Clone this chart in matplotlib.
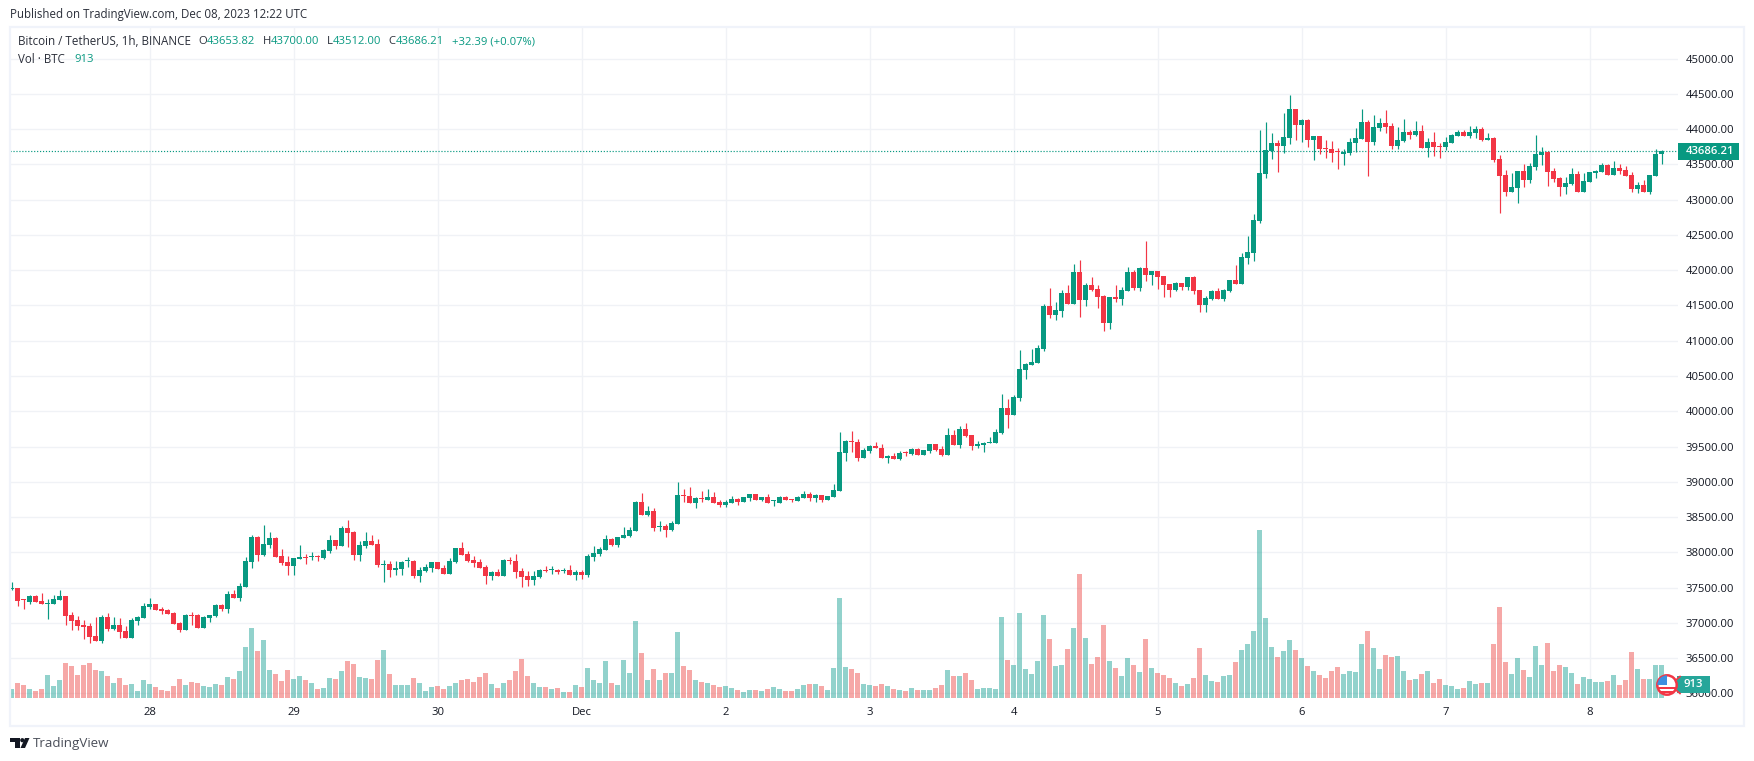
import matplotlib
matplotlib.use("Agg")
import matplotlib.pyplot as plt
from matplotlib.patches import Rectangle, Circle, Polygon
import numpy as np

opens = [37479,37493,37328,37300,37380,37309,37271,37267,37328,37380,
37111,37040,36969,36955,36813,36742,37082,36912,36969,36884,
36789,37025,37068,37224,37267,37196,37181,37139,36997,36898,
37111,37111,36926,37068,37096,37252,37196,37408,37352,37508,
37862,38217,37961,38103,38202,37947,37862,37805,37905,37933,
37938,37947,37919,38018,38174,38089,38344,38288,37961,38089,
38160,38117,37824,37834,37749,37763,37872,37876,37664,37735,
37777,37862,
37781,37696,37866,38065,37980,37895,37866,37795,37668,37724,
37668,37895,37880,37739,37668,37611,37654,37753,37743,37753,
37739,37753,37682,37724,37682,37937,37980,38036,38192,38107,
38207,38235,38306,38717,38533,38589,38363,38377,38320,38405,
38816,38802,38703,38774,38745,38788,38717,38675,38703,38760,
38717,38774,38831,38745,38788,38722,38703,38788,38755,38731,
38774,38831,38774,38816,38745,38788,38873,39412,39582,39568,
39341,39440,39511,
39484,39342,39370,39328,39418,39399,39469,39384,39441,39540,
39469,39384,39668,39526,39753,39668,39512,39526,39555,39555,
39696,40051,39952,40193,40590,40661,40689,40888,41497,41370,
41427,41682,41526,41980,41582,41795,41738,41639,41256,41625,
41597,41710,41980,41753,42036,41937,41994,41923,41809,41724,
41824,41767,41909,41724,41512,41597,41710,41597,41710,41866,
41809,42179,42250,42703,43370,43696,43810,43767,43880,44292,
44065,44136,43852,43909,43739,43725,43682,43654,43668,43810,
43866,44107,43824,44022,44093,44051,43767,43838,43966,43923,
43980,43739,43824,43767,43753,43810,43909,43966,43909,43951,
44008,43852,43880,43583,43356,43115,43171,43413,43285,43469,
43639,43682,43413,43313,43186,43228,43370,43115,43257,43384,
43398,43498,43356,43455,43427,43356,43157,43214,43115,43342,43653.82]

highs = [37578,37493,37342,37394,37394,37423,37337,37389,37465,37380,
37153,37096,37040,36992,37082,37111,37134,37082,37068,36955,
37068,37096,37281,37352,37267,37219,37196,37153,37011,37125,
37153,37125,37096,37111,37267,37267,37451,37465,37564,37928,
38245,38231,38387,38288,38217,38046,37947,37919,38103,37976,
38004,37961,38046,38245,38174,38373,38458,38302,38160,38288,
38245,38188,37890,37876,37876,37876,37933,37890,37791,37834,
37862,37862,
37824,37923,38065,38150,38022,37951,37909,37824,37739,37767,
37909,37937,37980,37781,37739,37739,37767,37810,37810,37767,
37772,37824,37753,37753,37980,38093,38079,38249,38207,38221,
38363,38363,38731,38845,38660,38632,38448,38405,38448,39001,
38901,38930,38788,38873,38901,38859,38745,38745,38802,38774,
38788,38831,38831,38788,38831,38745,38802,38802,38760,38802,
38873,38859,38831,38816,38802,38972,39710,39596,39724,39611,
39483,39525,39568,
39540,39384,39413,39441,39441,39484,39484,39455,39540,39540,
39512,39767,39739,39796,39838,39668,39583,39569,39640,39753,
40249,40179,40235,40873,40689,40888,40944,41526,41753,41554,
41724,41795,42093,42150,41824,41909,41795,41653,41625,41795,
41767,42050,42008,42050,42419,41994,41994,41923,41809,41838,
41824,41909,41923,41724,41639,41724,41753,41738,41866,42079,
42250,42491,42803,43994,44107,43951,43852,44235,44490,44292,
44150,44150,43909,43909,43852,43838,43739,43725,43880,44022,
44292,44136,44207,44164,44278,44093,44036,44150,43994,44122,
44065,43880,43966,43810,43895,43937,43994,43994,44051,44051,
44036,43951,43895,43639,43427,43384,43413,43512,43526,43923,
43753,43696,43455,43327,43327,43455,43413,43384,43398,43427,
43526,43512,43554,43512,43483,43398,43257,43285,43356,43725,43700]

lows = [37465,37238,37196,37271,37295,37267,37054,37262,37323,36969,
36898,36898,36770,36718,36742,36718,36884,36898,36784,36784,
36784,36969,37068,37196,37181,37125,37120,36983,36869,36898,
36969,36926,36926,37011,37082,37167,37139,37352,37309,37508,
37777,37876,37947,38061,37928,37820,37678,37678,37905,37834,
37890,37876,37905,37990,38046,38089,38075,37890,37876,38061,
38098,37791,37578,37649,37678,37678,37791,37635,37578,37720,
37720,37763,
37696,37696,37852,37966,37866,37795,37781,37554,37611,37668,
37668,37838,37639,37512,37526,37540,37639,37724,37696,37696,
37710,37682,37611,37625,37654,37880,37951,38036,38093,38079,
38207,38221,38306,38533,38519,38306,38306,38221,38306,38405,
38717,38703,38632,38717,38745,38703,38646,38646,38703,38675,
38717,38731,38745,38731,38703,38660,38703,38745,38717,38731,
38774,38731,38717,38717,38745,38788,38873,39299,39426,39299,
39341,39412,39483,
39342,39271,39328,39314,39370,39384,39384,39384,39413,39441,
39370,39384,39526,39484,39640,39455,39484,39427,39555,39555,
39682,39767,39952,40150,40462,40661,40689,40859,41327,41299,
41341,41526,41526,41341,41497,41710,41469,41143,41171,41554,
41512,41710,41724,41710,41852,41795,41738,41625,41625,41710,
41724,41724,41668,41412,41412,41582,41597,41568,41696,41809,
41809,42094,42136,42675,43313,43583,43398,43668,43795,43852,
43824,43753,43568,43654,43597,43540,43441,43498,43639,43682,
43866,43342,43781,43980,43951,43725,43725,43824,43866,43909,
43739,43611,43625,43597,43710,43810,43909,43909,43880,43880,
43838,43852,43540,42817,43058,43115,42959,43186,43242,43427,
43498,43200,43257,43058,43086,43214,43115,43115,43257,43313,
43398,43356,43356,43370,43342,43115,43100,43115,43086,43342,43512]

closes = [37489,37314,37318,37380,37300,37271,37281,37337,37380,37101,
37030,36959,36945,36803,36742,37082,36912,36969,36869,36789,
37040,37082,37238,37267,37186,37172,37125,36983,36898,37111,
37101,36926,37082,37111,37252,37196,37408,37352,37522,37876,
38217,37961,38117,38202,37933,37848,37805,37919,37933,37924,
37947,37933,38032,38174,38089,38344,38273,37961,38103,38160,
38103,37820,37834,37749,37777,37862,37881,37664,37749,37791,
37862,37763,
37696,37880,38065,37966,37880,37852,37781,37668,37724,37668,
37895,37880,37724,37654,37611,37668,37753,37739,37753,37724,
37748,37682,37724,37682,37951,37994,38051,38192,38107,38221,
38249,38320,38717,38533,38589,38348,38372,38320,38419,38816,
38802,38703,38774,38760,38788,38703,38675,38717,38760,38717,
38788,38831,38745,38788,38703,38731,38788,38745,38745,38788,
38831,38774,38816,38745,38802,38887,39426,39582,39568,39341,
39455,39511,39483,
39342,39370,39328,39413,39408,39469,39384,39455,39540,39455,
39384,39668,39526,39753,39654,39512,39540,39555,39569,39711,
40051,39952,40207,40604,40675,40703,40902,41497,41370,41441,
41682,41526,41980,41582,41795,41724,41625,41256,41625,41597,
41724,41980,41753,42036,41937,41994,41909,41795,41724,41824,
41767,41909,41710,41512,41611,41710,41597,41724,41866,41809,
42193,42264,42718,43384,43710,43810,43767,43895,44292,44065,
44136,43852,43909,43725,43725,43668,43672,43682,43824,43880,
44107,43824,44036,44093,44036,43767,43852,43966,43923,43980,
43739,43824,43753,43753,43824,43923,43966,43909,43966,44008,
43852,43880,43568,43342,43115,43186,43413,43285,43483,43654,
43682,43398,43299,43186,43242,43370,43115,43271,43398,43413,
43498,43356,43455,43413,43342,43157,43214,43115,43356,43654,43686.21]

volumes = [249,415,360,249,194,249,636,332,498,968,
885,636,913,968,775,747,609,415,553,360,
387,194,498,387,304,221,194,332,526,360,
443,415,332,304,387,360,581,526,747,1411,
1936,1300,1604,775,664,470,775,526,609,498,
415,249,277,553,526,747,1023,940,581,553,
526,1051,1328,664,360,360,360,553,415,194,
304,332,
249,332,415,498,526,443,581,692,387,277,
415,498,747,1079,609,415,304,304,249,277,
166,166,360,304,830,498,415,1023,415,360,
1051,692,2130,1245,498,802,498,692,692,1826,
885,775,498,443,415,360,304,332,277,221,
166,221,221,194,249,304,249,194,194,249,
360,387,387,332,221,830,2766,857,802,692,
387,360,332,
387,332,249,221,194,277,221,221,221,277,
360,775,609,609,692,498,249,277,277,249,
2240,1051,913,2351,802,664,1023,2296,1632,885,
913,1355,1936,3430,1660,940,1134,2019,1023,830,
609,1106,913,719,1632,830,692,636,553,415,
332,387,553,1383,636,470,443,609,636,996,
1328,1494,1853,4647,2213,1411,1134,1300,1604,1328,
1106,885,747,636,553,747,857,664,747,719,
1494,1853,1383,802,1189,1134,1162,747,498,526,
664,747,415,526,360,332,249,277,470,387,
415,415,1494,2517,996,664,1106,775,581,1438,
913,1521,747,913,857,692,387,581,526,443,
443,470,636,360,498,1272,802,526,526,913,913]

price_ticks = list(range(36000, 45001, 500))
day_labels = ["28", "29", "30", "Dec", "2", "3", "4", "5", "6", "7", "8"]
day_bar_index = [23, 47, 71, 95, 119, 143, 167, 191, 215, 239, 263]

UP, DOWN = "#089981", "#F23645"
VOL_UP, VOL_DOWN = "#26A69A", "#EF5350"
GRID = "#F0F2F6"
FRAME = "#F0F3FA"
TEXT = "#131722"
SOFT = "#2A2E39"
plt.rcParams["font.family"] = ["Open Sans", "DejaVu Sans"]

W, H = 1754, 761
fig = plt.figure(figsize=(W / 100, H / 100), dpi=100, facecolor="white")
L, R, T, B = 10, 1678, 27, 698
rect = [L / W, 1 - B / H, (R - L) / W, (B - T) / H]

o, h, l, c = map(np.array, (opens, highs, lows, closes))
x = np.arange(len(o))
up = c >= o
cols = np.where(up, UP, DOWN)
vcols = np.where(up, VOL_UP, VOL_DOWN)

ax = fig.add_axes(rect, zorder=1)
ax.set_xlim(-0.283, 277.7)
ax.set_ylim(35933, 45450)
ax.set_yticks(price_ticks)
ax.set_yticklabels([f"{p:.2f}" for p in price_ticks], color=TEXT, fontsize=8.1)
ax.yaxis.tick_right()
ax.set_xticks(day_bar_index)
ax.set_xticklabels(day_labels, color=TEXT, fontsize=8.1)
ax.tick_params(axis="both", length=0)
ax.tick_params(axis="y", pad=5.5)
ax.tick_params(axis="x", pad=6.5)
for s in ax.spines.values():
    s.set_visible(False)
ax.grid(True, color=GRID, lw=1.0)
ax.set_axisbelow(True)

ax.vlines(x, l, h, colors=cols, lw=0.85, zorder=3)
ax.bar(x, np.maximum(np.abs(c - o), 14), bottom=np.minimum(o, c), width=0.85,
       color=cols, linewidth=0, zorder=4)
ax.axhline(closes[-1], color=UP, lw=0.85, ls=(0, (1, 1.5)), zorder=2)

vax = fig.add_axes(rect, zorder=2)
vax.patch.set_visible(False)
vax.set_xlim(ax.get_xlim())
vax.set_ylim(0, 18567)
vax.axis("off")
vax.bar(x, volumes, width=0.85, color=vcols, alpha=0.5, linewidth=0)

# page furniture, placed in pixel space
ch = fig.add_axes([0, 0, 1, 1], zorder=3)
ch.set_xlim(0, W)
ch.set_ylim(H, 0)
ch.axis("off")
ch.add_patch(Rectangle((10, 26.5), 1734, 699.5, fill=False, ec=FRAME, lw=1.6))

ch.text(10.3, 14.7, "Published on TradingView.com, Dec 08, 2023 12:22 UTC", fontsize=8.3,
        color=SOFT, va="center")
parts = [(18.4, "Bitcoin / TetherUS, 1h, BINANCE", SOFT, 8.35),
         (198.5, "O", SOFT, 8.1), (206.7, f"{opens[-1]:.2f}", UP, 8.1),
         (262.5, "H", SOFT, 8.1), (270.6, f"{highs[-1]:.2f}", UP, 8.1),
         (327, "L", SOFT, 8.1), (333, f"{lows[-1]:.2f}", UP, 8.1),
         (388.5, "C", SOFT, 8.1), (395.7, f"{closes[-1]:.2f}", UP, 8.1),
         (451.6, "+32.39 (+0.07%)", UP, 8.1)]
for px, s, col, fs in parts:
    ch.text(px, 41.7, s, fontsize=fs, color=col, va="center")
ch.text(18.4, 59.3, "Vol · BTC", fontsize=8.3, color=SOFT, va="center")
ch.text(73.9, 59.3, f"{volumes[-1]}", fontsize=8.1, color=UP, va="center")

# last price tag
ch.add_patch(Rectangle((1678, 143), 61, 17, fc=UP, ec="none"))
ch.text(1686, 151.5, f"{closes[-1]:.2f}", color="white", fontsize=8.1, va="center", weight="semibold")

# volume tag and flag
ch.add_patch(Rectangle((1677, 676), 33, 17, fc="#26A69A", ec="none"))
ch.text(1693.5, 684.5, f"{volumes[-1]}", color="white", fontsize=8.1, va="center", ha="center", weight="semibold")
ch.plot([1676, 1680], [680, 676.5], color=DOWN, lw=1.2)
ch.plot([1676, 1680], [690, 693.5], color=DOWN, lw=1.2)
disc = Circle((1667, 685), 9.7, fc="white", ec=DOWN, lw=1.8, zorder=5)
ch.add_patch(disc)
for yy in (686.5, 691):
    s = Rectangle((1656, yy), 22, 2.2, fc=DOWN, ec="none", zorder=6)
    ch.add_patch(s)
    s.set_clip_path(disc)
cant = Rectangle((1656, 675), 11, 10, fc="#3D8FE0", ec="none", zorder=6)
ch.add_patch(cant)
cant.set_clip_path(disc)

# logo
logo = "#131722"
ch.add_patch(Polygon([(10, 738), (19.5, 738), (19.5, 748), (15, 748), (15, 742.3), (10, 742.3)], fc=logo, ec="none"))
ch.add_patch(Circle((22.3, 740.2), 2.1, fc=logo, ec="none"))
ch.add_patch(Polygon([(25, 738), (29.5, 738), (25, 748), (20.5, 748)], fc=logo, ec="none"))
ch.text(33, 743, "TradingView", fontsize=9.6, color="#4A4E59", va="center")

fig.savefig("out.png", dpi=100)
